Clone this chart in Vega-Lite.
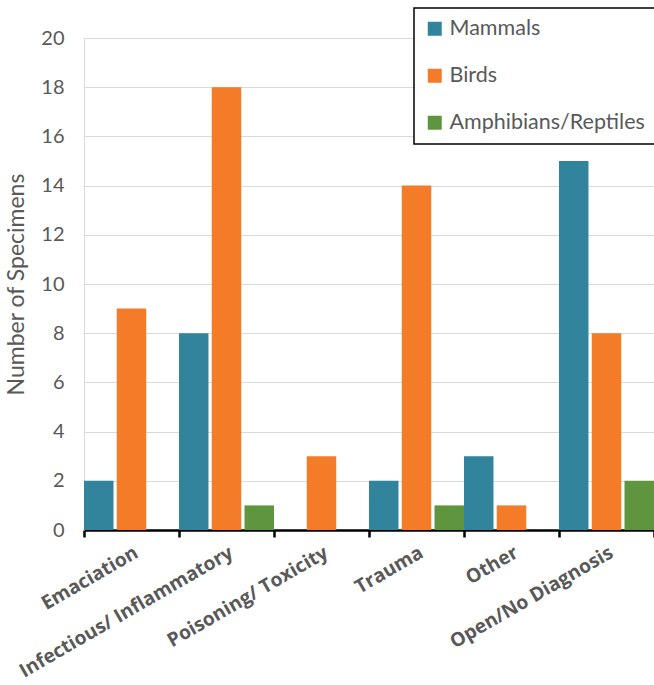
{
  "$schema": "https://vega.github.io/schema/vega-lite/v6.json",
  "autosize": "none",
  "padding": {"left": 84, "top": 38, "right": 0, "bottom": 155},
  "width": 570,
  "height": 492,
  "background": "white",
  "data": {"values": [
    {"cause": "Emaciation", "group": "Mammals", "count": 2},
    {"cause": "Emaciation", "group": "Birds", "count": 9},
    {"cause": "Emaciation", "group": "Amphibians/Reptiles", "count": 0},
    {"cause": "Infectious/ Inflammatory", "group": "Mammals", "count": 8},
    {"cause": "Infectious/ Inflammatory", "group": "Birds", "count": 18},
    {"cause": "Infectious/ Inflammatory", "group": "Amphibians/Reptiles", "count": 1},
    {"cause": "Poisoning/ Toxicity", "group": "Mammals", "count": 0},
    {"cause": "Poisoning/ Toxicity", "group": "Birds", "count": 3},
    {"cause": "Poisoning/ Toxicity", "group": "Amphibians/Reptiles", "count": 0},
    {"cause": "Trauma", "group": "Mammals", "count": 2},
    {"cause": "Trauma", "group": "Birds", "count": 14},
    {"cause": "Trauma", "group": "Amphibians/Reptiles", "count": 1},
    {"cause": "Other", "group": "Mammals", "count": 3},
    {"cause": "Other", "group": "Birds", "count": 1},
    {"cause": "Other", "group": "Amphibians/Reptiles", "count": 0},
    {"cause": "Open/No Diagnosis", "group": "Mammals", "count": 15},
    {"cause": "Open/No Diagnosis", "group": "Birds", "count": 8},
    {"cause": "Open/No Diagnosis", "group": "Amphibians/Reptiles", "count": 2}
  ]},
  "mark": {"type": "bar"},
  "encoding": {
    "x": {
      "field": "cause", "type": "nominal", "sort": null,
      "scale": {"paddingInner": 0, "paddingOuter": 0},
      "axis": {
        "title": null,
        "labelAngle": -30,
        "labelFont": "Open Sans",
        "labelFontWeight": "bold",
        "labelFontSize": 19.3,
        "labelColor": "#595959",
        "labelPadding": 6,
        "labelOverlap": false,
        "labelLimit": 400,
        "domainColor": "#000000",
        "domainWidth": 2.5,
        "tickColor": "#000000",
        "tickWidth": 2.5,
        "tickSize": 7,
        "tickBand": "extent",
        "grid": false
      }
    },
    "xOffset": {
      "field": "group", "type": "nominal",
      "sort": ["Mammals", "Birds", "Amphibians/Reptiles"],
      "scale": {"paddingInner": 0.1, "paddingOuter": 0}
    },
    "y": {
      "field": "count", "type": "quantitative",
      "scale": {"domain": [0, 20]},
      "axis": {
        "title": "Number of Specimens",
        "titleFont": "Lato",
        "titleFontWeight": "normal",
        "titleFontSize": 23,
        "titleColor": "#595959",
        "titlePadding": 12,
        "values": [0, 2, 4, 6, 8, 10, 12, 14, 16, 18, 20],
        "labelFont": "Lato",
        "labelFontSize": 20,
        "labelColor": "#595959",
        "labelPadding": 20,
        "ticks": false,
        "domain": true,
        "domainColor": "#d9d9d9",
        "grid": true,
        "gridColor": "#d9d9d9",
        "gridWidth": 1
      }
    },
    "color": {
      "field": "group", "type": "nominal",
      "sort": ["Mammals", "Birds", "Amphibians/Reptiles"],
      "scale": {
        "domain": ["Mammals", "Birds", "Amphibians/Reptiles"],
        "range": ["#31849b", "#f47b28", "#5f953f"]
      },
      "legend": {
        "title": null,
        "orient": "none",
        "legendX": 330,
        "legendY": -30,
        "strokeColor": "#000000",
        "fillColor": "#ffffff",
        "padding": 10,
        "symbolType": "square",
        "symbolSize": 196,
        "symbolStrokeWidth": 0,
        "labelFont": "Lato",
        "labelFontSize": 21.5,
        "labelColor": "#595959",
        "labelOffset": 4,
        "rowPadding": 24,
        "labelLimit": 300,
        "encode": {"legend": {"update": {"strokeWidth": {"value": 1.5}}}}
      }
    }
  },
  "config": {"view": {"stroke": null}}
}
